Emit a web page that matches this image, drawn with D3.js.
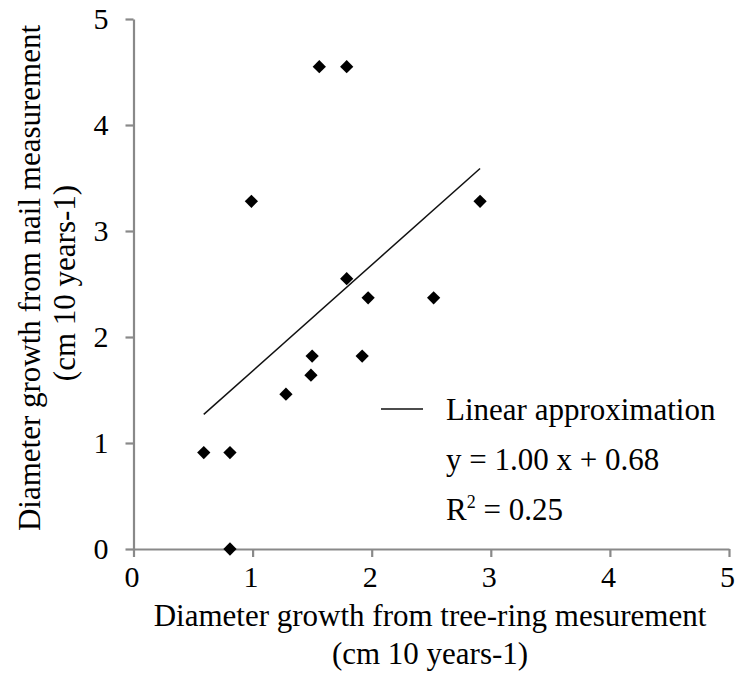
<!DOCTYPE html>
<html>
<head>
<meta charset="utf-8">
<script src="https://cdn.jsdelivr.net/npm/d3@7"></script>
<style>
  body { margin: 0; background: #fff; }
  svg text { font-family: "Liberation Serif", "Times New Roman", serif; fill: #000; }
</style>
</head>
<body>
<svg id="chart" width="737" height="675"></svg>
<script>
// values
var treeRing = [0.59, 0.81, 0.81, 0.99, 1.28, 1.49, 1.50, 1.56, 1.79, 1.79, 1.92, 1.97, 2.52, 2.91];
var nail     = [0.91, 0.91, 0.00, 3.28, 1.46, 1.64, 1.82, 4.55, 4.55, 2.55, 1.82, 2.37, 2.37, 3.28];
var xTicks = [0, 1, 2, 3, 4, 5];
var yTicks = [0, 1, 2, 3, 4, 5];
var fit = { slope: 1.00, intercept: 0.68, r2: 0.25 };

var svg = d3.select("#chart");

var x = d3.scaleLinear().domain([0, 5]).range([133.5, 729]);
var y = d3.scaleLinear().domain([0, 5]).range([549, 19]);

var axisColor = "#898989";
var serif = "'Liberation Serif', 'Times New Roman', serif";

var xAxis = svg.append("g")
    .attr("transform", "translate(0," + y(0) + ")")
    .call(d3.axisBottom(x).tickValues(xTicks).tickFormat(d3.format("d"))
      .tickSize(8).tickPadding(8).tickSizeOuter(0));

var yAxis = svg.append("g")
    .attr("transform", "translate(" + x(0) + ",0)")
    .call(d3.axisLeft(y).tickValues(yTicks).tickFormat(d3.format("d"))
      .tickSize(8).tickPadding(17).tickSizeOuter(0));

[xAxis, yAxis].forEach(function(a) {
  a.attr("font-family", serif).attr("font-size", 30);
  a.select(".domain").attr("stroke", axisColor).attr("stroke-width", 2.2);
  a.selectAll(".tick line").attr("stroke", axisColor).attr("stroke-width", 2.2);
  a.selectAll(".tick text").attr("fill", "#000");
});
xAxis.selectAll(".tick text").attr("dy", "0.72em").attr("dx", -2);

// trend line over the range of the data
var xMin = d3.min(treeRing), xMax = d3.max(treeRing);
svg.append("line")
    .attr("x1", x(xMin)).attr("y1", y(fit.slope * xMin + fit.intercept))
    .attr("x2", x(xMax)).attr("y2", y(fit.slope * xMax + fit.intercept))
    .attr("stroke", "#111").attr("stroke-width", 1.5);

// diamond markers
var pts = treeRing.map(function(d, i) { return { x: d, y: nail[i] }; });
svg.selectAll("path.pt")
    .data(pts)
  .enter().append("path")
    .attr("class", "pt")
    .attr("d", d3.symbol(d3.symbolSquare, 88))
    .attr("transform", function(d) { return "translate(" + x(d.x) + "," + y(d.y) + ") rotate(45)"; })
    .attr("fill", "#000");

// legend
svg.append("line")
    .attr("x1", 381).attr("x2", 423).attr("y1", 409).attr("y2", 409)
    .attr("stroke", "#111").attr("stroke-width", 1.5);
svg.append("text").attr("x", 446).attr("y", 420).attr("font-size", 31).text("Linear approximation");
svg.append("text").attr("x", 446).attr("y", 470).attr("font-size", 31)
    .text("y = " + fit.slope.toFixed(2) + " x + " + fit.intercept.toFixed(2));
var r2 = svg.append("text").attr("x", 446).attr("y", 520).attr("font-size", 31);
r2.append("tspan").text("R");
r2.append("tspan").attr("font-size", 18).attr("dy", -12).text("2");
r2.append("tspan").attr("dy", 12).text(" = " + fit.r2.toFixed(2));

// axis titles
svg.append("text").attr("x", 430).attr("y", 626).attr("text-anchor", "middle").attr("font-size", 31)
    .text("Diameter growth from tree-ring mesurement");
svg.append("text").attr("x", 430).attr("y", 664).attr("text-anchor", "middle").attr("font-size", 31)
    .text("(cm 10 years-1)");

svg.append("text").attr("transform", "translate(40,278) rotate(-90)").attr("text-anchor", "middle").attr("font-size", 31)
    .text("Diameter growth from nail measurement");
svg.append("text").attr("transform", "translate(75,283) rotate(-90)").attr("text-anchor", "middle").attr("font-size", 31)
    .text("(cm 10 years-1)");
</script>
</body>
</html>
